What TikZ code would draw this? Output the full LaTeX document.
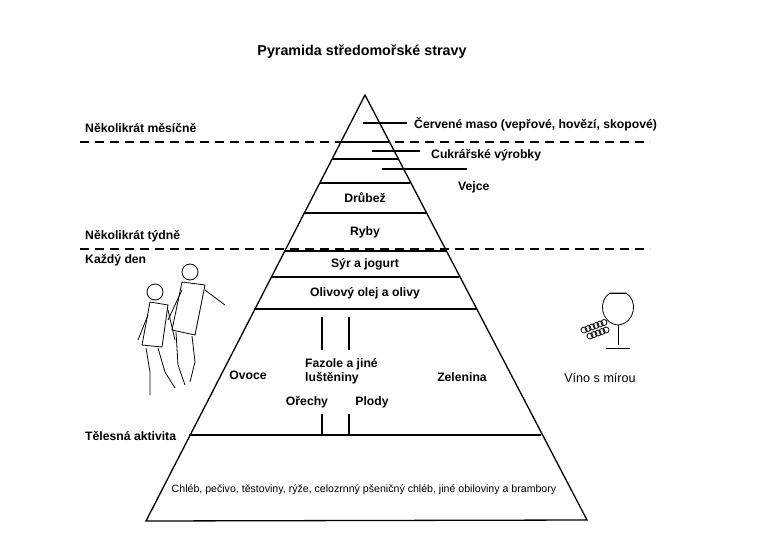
\documentclass[tikz,border=0pt]{standalone}
\usepackage{fontspec}
\setmainfont{Liberation Sans}
\usetikzlibrary{positioning}
\tikzset{
  lbl/.style={font=\fontsize{12.2}{14}\selectfont\bfseries, inner sep=1pt},
  band/.style={line width=1.3pt},
  limit/.style={line width=1.3pt, dash pattern=on 9pt off 6pt},
}
\begin{document}
\begin{tikzpicture}[x=1pt,y=-1pt]
\useasboundingbox (0,0) rectangle (780,547);
% pyramid outline
\draw[band] (365,95) -- (146,521) -- (587,520) -- cycle;
% bands: y, half-width from slope
\foreach \y in {142,159,183,213,251,277,309,435}
  \draw[band] ({365-0.517*(\y-95)},\y) -- ({365+0.517*(\y-95)},\y);
\draw[limit] (80,142) -- (650,142);
\draw[limit] (80,249) -- (650,249);
% title
\node[font=\fontsize{14.3}{16}\selectfont\bfseries] (title) at (362,52) {Pyramida středomořské stravy};
% left labels
\node[lbl, anchor=west] (mesicne) at (84,128) {Několikrát měsíčně};
\node[lbl, anchor=west] (tydne) at (84,236) {Několikrát týdně};
\node[lbl, anchor=west] (den) at (84,260) {Každý den};
\node[lbl, anchor=west] (aktivita) at (84,436) {Tělesná aktivita};
% top labels with leaders
\node[lbl, anchor=west] (maso) at (413,124) {Červené maso (vepřové, hovězí, skopové)};
\node[lbl, anchor=west] (cukr) at (430,155) {Cukrářské výrobky};
\node[lbl, anchor=west] (vejce) at (457,187) {Vejce};
\coordinate (m1) at (363,123);
\coordinate (c1) at (372,151);
\coordinate (v1) at (382,169);
\draw[line width=1.2pt] (m1) -- (407,123);
\draw[line width=1.2pt] (c1) -- (420,151);
\draw[line width=1.2pt] (v1) -- (467,169);
% band texts
\node[lbl] (drubez) at (365,198) {Drůbež};
\node[lbl] (ryby) at (365,232) {Ryby};
\node[lbl] (syr) at (365,264) {Sýr a jogurt};
\node[lbl] (olej) at (365,293) {Olivový olej a olivy};
\node[lbl, align=left, anchor=west] (fazole) at (304,371) {Fazole a jiné\\luštěniny};
\node[lbl] (ovoce) at (248,375) {Ovoce};
\node[lbl] (zelenina) at (462,377) {Zelenina};
\node[lbl] (orechy) at (307,402) {Ořechy};
\node[lbl] (plody) at (372,402) {Plody};
\foreach \x in {322,349} {
  \draw[line width=1.3pt] (\x,317) -- (\x,350);
  \draw[line width=1.3pt] (\x,414) -- (\x,435);
}
\node[font=\fontsize{10.6}{12}\selectfont] (chleb) at (364,490) {Chléb, pečivo, těstoviny, rýže, celozrnný pšeničný chléb, jiné obiloviny a brambory};
\node[font=\fontsize{12.6}{14}\selectfont] (vino) at (600,378) {Víno s mírou};
% walkers
\begin{scope}[line width=0.8pt]
\draw (190,272) circle (8);
\draw (182,282) -- (172,330) -- (195,335) -- (205,285) -- cycle;
\draw (205,290) -- (225,305);
\draw (182,290) -- (168,320);
\draw (176,332) -- (178,365) -- (185,385);
\draw (192,336) -- (195,362) -- (190,382);
\draw (155,292) circle (8);
\draw (150,302) -- (142,345) -- (162,347) -- (168,305) -- cycle;
\draw (168,310) -- (175,340);
\draw (148,315) -- (138,340);
\draw (146,348) -- (150,372) -- (150,395);
\draw (158,348) -- (165,372) -- (175,388);
\end{scope}
% wine glass and grapes
\begin{scope}[line width=0.8pt]
\draw (610,293) .. controls (598,300) and (600,323) .. (618,325) .. controls (636,323) and (638,300) .. (626,293) -- cycle;
\draw (610,293) -- (626,293);
\draw (618,325) -- (618,345);
\draw (606,348) -- (630,348);
\foreach \i in {0,...,5}
  \draw (584+\i*4,330-\i*1.5) circle (3);
\foreach \i in {0,...,4}
  \draw (590+\i*4,336-\i*1.5) circle (3);
\end{scope}
\end{tikzpicture}
\end{document}
